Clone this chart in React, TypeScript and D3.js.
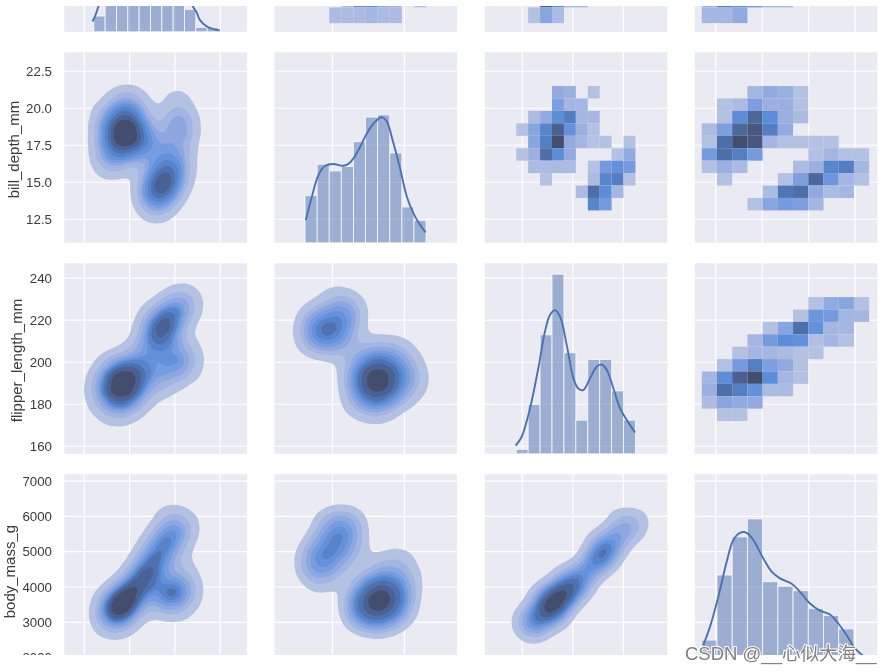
import React, { useEffect, useRef } from 'react';
import * as d3 from 'd3';

type Anchor = [number, number, number];

// axis domains
const billDomain = [25.59, 65.9];
const depthDomain = [10.97, 23.66];
const flipperDomain = [156.4, 246.8];
const massDomain = [2548, 6478];

const billRowDomain = [30.725, 60.975];
const depthRowDomain = [10.91, 23.78];
const flipperRowDomain = [156.4, 247.1];
const massRowDomain = [1796, 7193];

const billTicks = [30, 40, 50, 60];
const depthTicksX = [15, 20];
const flipperTicksX = [175, 200, 225];
const massTicksX = [3000, 4000, 5000, 6000];

const depthTicks = [12.5, 15, 17.5, 20, 22.5];
const flipperTicks = [160, 180, 200, 220, 240];
const massTicks = [2000, 3000, 4000, 5000, 6000, 7000];

// histogram counts on the diagonal
const billCounts = [7, 30, 50, 50, 46, 58, 52, 37, 10, 2, 2];
const depthCounts = [21, 35, 32, 34, 45, 56, 57, 40, 16, 10];
const flipperCounts = [2, 22, 53, 80, 45, 15, 42, 42, 28, 15];
const massCounts = [11, 40, 57, 65, 37, 35, 33, 25, 22, 16, 3];

// kde curves on the diagonal: [value, count]
const billCurve: [number, number][] = [[31.8, 4.6], [32.4, 7.1], [33.2, 11.6], [36, 25], [39, 37], [42, 37], [46, 42], [49, 43], [52, 25], [53.9, 11.6], [54.8, 8.6], [55.5, 5.3], [57, 2.4], [58.5, 1.2], [59.9, 0.6]];
const depthCurve: [number, number][] = [[13.15, 10.1], [13.57, 20.5], [14.03, 30.2], [14.49, 34.3], [15.07, 35.1], [15.76, 34.3], [16.23, 35.8], [16.81, 41.3], [17.39, 48.7], [17.97, 53.9], [18.43, 55.9], [18.78, 53.9], [19.24, 44.3], [19.7, 33.1], [20.17, 20.5], [20.63, 13.1], [21.09, 7.9], [21.48, 4.6]];
const flipperCurve: [number, number][] = [[171.7, 3.6], [174.7, 7.6], [178.8, 20.2], [182.9, 38], [186.2, 54.4], [188.7, 61.8], [191.2, 64], [193.7, 61.1], [197, 48.4], [200.3, 33.6], [202.7, 29.1], [205.2, 28.4], [208.5, 33.6], [211.8, 38.8], [214.3, 39.8], [216.8, 37.3], [220.1, 29.1], [223.4, 20.2], [226.7, 15], [230.8, 9.5]];
const massCurve: [number, number][] = [[2733, 8.8], [2877, 16.9], [3056, 30.3], [3236, 45.9], [3379, 55.6], [3523, 58.8], [3667, 58.8], [3809, 55.6], [4024, 47.4], [4204, 41.5], [4383, 38.5], [4634, 36.1], [4813, 32.5], [5028, 27.3], [5243, 24.1], [5458, 22.4], [5637, 18.4], [5817, 13.2], [5996, 7.3], [6174, 4], [6300, 2]];

// 2d histograms, rows top to bottom, cell shade 0-10
const billByDepth = [
  [0, 0, 0, 1.5, 6, 6, 3, 2, 0, 1],
  [0, 0, 1.5, 1.5, 1.5, 2, 1.5, 1.5, 0, 0],
];
const billByFlipper = [
  [0, 0, 9, 6, 1.5, 1.5, 0, 0, 0, 0],
  [0, 1, 3.5, 1.5, 0, 0, 0, 0, 0, 0],
];
const billByMass = [
  [2, 7, 5.5, 4.5, 1.5, 1.5, 0, 0, 0, 0, 0],
  [2, 2, 3, 0, 0, 0, 0, 0, 0, 0, 0],
];
const depthByFlipper = [
  [0, 0, 0, 3, 2.5, 0, 1, 0, 0, 0],
  [0, 0, 0, 4, 2, 2, 0, 0, 0, 0],
  [0, 1.5, 3, 6, 7, 2, 2, 0, 0, 0],
  [1, 3.5, 6.5, 9, 5.5, 2.5, 1, 0, 0, 0],
  [0, 3.5, 7, 10, 3, 2, 1, 1, 0, 1],
  [1, 2.5, 8, 6, 3, 0, 0, 0, 1, 3],
  [0, 1.5, 1.5, 1.5, 1.5, 0, 1, 4.5, 5.5, 4.5],
  [0, 0, 1, 0, 0, 0, 1.5, 6.5, 7, 1],
  [0, 0, 0, 0, 0, 1.5, 8, 6, 2, 0],
  [0, 0, 0, 0, 0, 0, 6.5, 4.5, 0, 0],
];
const depthByMass = [
  [0, 0, 0, 2, 3, 2.5, 1, 0, 0, 0, 0],
  [0, 1, 1.5, 4, 2.5, 2.5, 1, 0, 0, 0, 0],
  [0, 1, 6, 8.5, 6, 2.5, 1.5, 0, 0, 0, 0],
  [1.5, 4, 8.5, 9.5, 7, 3, 0, 0, 0, 0, 0],
  [1, 8, 10, 9.5, 2, 1, 1, 1, 1, 0, 0],
  [4.5, 8, 7, 4.5, 0, 0, 0, 1, 2, 1, 1],
  [1, 2.5, 1.5, 0, 0, 0, 1.5, 2.5, 6.5, 7, 2],
  [0, 1, 0, 0, 0, 1, 4, 8.5, 5, 2, 1],
  [0, 0, 0, 0, 1.5, 7.5, 8, 3, 1.5, 2, 0],
  [0, 0, 0, 1, 3.5, 4.5, 4, 2, 0, 0, 0],
];
const flipperByMass = [
  [0, 0, 0, 0, 0, 0, 0, 1, 3, 3.5, 1],
  [0, 0, 0, 0, 0, 0, 1, 5, 4.5, 2, 2],
  [0, 0, 0, 0, 1, 3.5, 8, 5.5, 2, 2, 0],
  [0, 0, 0, 2, 4.5, 6, 5.5, 1.2, 2, 1, 0],
  [0, 0, 1, 2, 2, 1.5, 1, 1, 0, 0, 0],
  [0, 1, 4.5, 7, 4, 3, 1, 0, 0, 0, 0],
  [2, 6, 9, 10, 6, 2, 1, 0, 0, 0, 0],
  [2.5, 8, 7, 5.5, 1.5, 1.5, 0, 0, 0, 0, 0],
  [1.5, 3.5, 3, 3, 0, 0, 0, 0, 0, 0, 0],
  [0, 1, 1, 0, 0, 0, 0, 0, 0, 0, 0],
];

// weighted points behind the filled kde panels: [x, y, weight]
const depthVsBill: Anchor[] = [
  [39, 18.33, 28], [42.3, 18.33, 15], [35.7, 18.33, 15], [40.6, 19.33, 15], [37.4, 19.33, 15], [40.6, 17.33, 15], [37.4, 17.33, 15],
  [39, 20.5, 10], [35, 17, 8], [34.5, 19.5, 6], [36, 16.2, 10], [41, 20.2, 6], [43, 17.3, 6],
  [47.1, 14.8, 25], [49, 15.6, 18], [45.2, 14, 14], [48.5, 14.2, 8], [45.7, 15.4, 8], [50, 16.5, 10], [46, 13.2, 8], [43.8, 14.6, 4], [51, 15.4, 5],
  [50.9, 18.9, 22], [50.5, 20.6, 7], [51.1, 17.5, 9],
  [45, 18, 5], [46, 16.9, 6], [47.5, 17, 5],
];
const flipperVsBill: Anchor[] = [
  [38.5, 190.1, 28], [41.8, 190.1, 15], [35.2, 190.1, 15], [40.1, 197.2, 15], [36.9, 197.2, 15], [40.1, 183, 15], [36.9, 183, 15],
  [34, 182, 8], [37, 176.5, 8], [43, 198, 8], [33.5, 190, 4], [41, 180, 4],
  [46.7, 215.4, 22], [48.9, 221.1, 20], [44.5, 209.7, 16], [50.7, 226.8, 14], [52, 231, 5], [53, 226, 6], [43, 204, 7], [45.5, 221, 10], [49, 212, 10],
  [50, 197.8, 18], [46, 193, 10], [52.5, 204, 10], [49, 204, 8], [53, 197, 5], [45, 199, 5], [47, 187.5, 5],
];
const flipperVsDepth: Anchor[] = [
  [14.7, 215.4, 24], [15.6, 220, 18], [14, 211, 14], [15.9, 226, 12], [13.7, 218, 10], [15.2, 208.5, 6], [14, 222, 8], [15.4, 213, 8], [16.5, 223, 5], [13.4, 212, 5], [15, 231, 5],
  [18.1, 191.6, 42], [19.1, 191.6, 22], [17.1, 191.6, 22], [18.6, 198.7, 18], [17.6, 198.7, 14], [18.6, 184.5, 20], [17.6, 184.5, 20],
  [19.9, 196, 10], [20.6, 191, 10], [19.9, 184, 7], [18.1, 177.5, 8], [16.6, 181, 8], [19.4, 205, 10], [17.8, 205, 10], [16.4, 196, 7], [20.4, 201, 4], [16.2, 208, 5],
];
const massVsBill: Anchor[] = [
  [38.5, 3600, 32], [40.5, 3900, 26], [36.5, 3300, 20], [42.5, 4200, 16], [39, 3250, 10], [35, 3000, 8], [38, 2900, 5], [35.5, 3500, 10], [41.5, 3450, 6],
  [44.5, 4623, 18], [46.7, 5048, 18], [48.5, 5400, 16], [50, 5750, 10], [52.5, 5700, 8], [50, 5250, 8], [45, 5100, 6], [47, 4500, 8], [48.5, 6000, 5], [43.5, 4350, 15],
  [49, 3830, 22], [46.5, 3650, 14], [51.5, 3950, 14], [50.5, 3350, 7], [51.5, 4500, 8], [53, 3800, 6],
];
const massVsDepth: Anchor[] = [
  [18.1, 3600, 42], [19, 3850, 30], [17.2, 3450, 22], [18.9, 3450, 14], [18, 3950, 12], [17.6, 3100, 10], [18.7, 3100, 10], [19.9, 3400, 8], [20.2, 4100, 8], [19.8, 4700, 7], [18.5, 4500, 9], [16.9, 4000, 6], [16.6, 3300, 5],
  [14.35, 4765, 16], [15.19, 5190, 16], [15.74, 5615, 14], [16.3, 5800, 7], [13.6, 4600, 9], [14.3, 4200, 7], [14.8, 5750, 10], [15.5, 4800, 7], [16.5, 5100, 6], [13.9, 5100, 7],
];
const massVsFlipper: Anchor[] = [
  [191.2, 3575, 30], [187, 3350, 22], [195.5, 3800, 25], [184, 3200, 10], [199, 4000, 18], [193, 3350, 8], [188, 3800, 10], [180, 3000, 12], [176, 3050, 6], [181, 2800, 8], [190, 3050, 6],
  [203, 4200, 12], [207, 4450, 14], [212, 4750, 20], [215.5, 4950, 18], [219, 5200, 15], [224, 5500, 12], [229, 5700, 6], [232, 5850, 6], [223, 5900, 6], [213, 5300, 6], [196, 4300, 6], [203, 3950, 6], [183, 3600, 5],
];

const kdeLevels = [0.05, 0.1556, 0.2611, 0.3667, 0.4722, 0.5778, 0.6833, 0.7889, 0.8944];

const shadeStops = [1, 2.5, 4, 6, 7.5, 9, 10];
const shadeColors = ['#b3c1e2', '#9cb0e0', '#7d9fe0', '#5c8dd8', '#4f76b5', '#4b5f90', '#454e6e'];

const colLefts = [64.3, 274.4, 484.7, 694.7];
const rowTops = [-158.7, 52.3, 263.3, 474.3];
const panelW = 182.7;
const panelH = 190.5;
const countMax = panelH / 2.245;

const edges = (lo: number, hi: number, n: number) => d3.range(n + 1).map(i => lo + ((hi - lo) * i) / n);
const billEdges = edges(32.1, 59.6, 11);
const depthEdges = edges(13.1, 21.5, 10);
const flipperEdges = edges(172, 231, 10);
const massEdges = edges(2700, 6300, 11);

const columns = [
  { domain: billDomain, ticks: billTicks, edges: billEdges },
  { domain: depthDomain, ticks: depthTicksX, edges: depthEdges },
  { domain: flipperDomain, ticks: flipperTicksX, edges: flipperEdges },
  { domain: massDomain, ticks: massTicksX, edges: massEdges },
];
const rows = [
  { label: '', labelX: 0, domain: billRowDomain, ticks: [] as number[], edges: billEdges, fmt: d3.format('d') },
  { label: 'bill_depth_mm', labelX: 18.5, domain: depthRowDomain, ticks: depthTicks, edges: depthEdges, fmt: d3.format('.1f') },
  { label: 'flipper_length_mm', labelX: 21.5, domain: flipperRowDomain, ticks: flipperTicks, edges: flipperEdges, fmt: d3.format('d') },
  { label: 'body_mass_g', labelX: 14.5, domain: massRowDomain, ticks: massTicks, edges: massEdges, fmt: d3.format('d') },
];

const diagonals = [
  { counts: billCounts, curve: billCurve },
  { counts: depthCounts, curve: depthCurve },
  { counts: flipperCounts, curve: flipperCurve },
  { counts: massCounts, curve: massCurve },
];
const heatmaps = [
  { row: 0, col: 1, cells: billByDepth },
  { row: 0, col: 2, cells: billByFlipper },
  { row: 0, col: 3, cells: billByMass },
  { row: 1, col: 2, cells: depthByFlipper },
  { row: 1, col: 3, cells: depthByMass },
  { row: 2, col: 3, cells: flipperByMass },
];
const kdePanels = [
  { row: 1, col: 0, points: depthVsBill, bandwidth: 12 },
  { row: 2, col: 0, points: flipperVsBill, bandwidth: 12 },
  { row: 2, col: 1, points: flipperVsDepth, bandwidth: 12 },
  { row: 3, col: 0, points: massVsBill, bandwidth: 11.5 },
  { row: 3, col: 1, points: massVsDepth, bandwidth: 12 },
  { row: 3, col: 2, points: massVsFlipper, bandwidth: 10 },
];

const App: React.FC = () => {
  const svgRef = useRef<SVGSVGElement>(null);

  useEffect(() => {
    if (!svgRef.current) return;
    const svg = d3.select(svgRef.current);
    svg.selectAll('*').remove();

    const defs = svg.append('defs');
    defs.append('filter').attr('id', 'soft').append('feGaussianBlur').attr('stdDeviation', 0.55);
    defs.append('clipPath').attr('id', 'crop').append('rect')
      .attr('x', 0).attr('y', 6).attr('width', 892).attr('height', 649);
    defs.append('clipPath').attr('id', 'panel').append('rect')
      .attr('width', panelW).attr('height', panelH);

    const root = svg.append('g').attr('filter', 'url(#soft)');
    const chart = root.append('g').attr('clip-path', 'url(#crop)');

    const shade = d3.scaleLinear<string>().domain(shadeStops).range(shadeColors).clamp(true);
    const xScales = columns.map(c => d3.scaleLinear().domain(c.domain).range([0, panelW]));
    const yScales = rows.map(r => d3.scaleLinear().domain(r.domain).range([panelH, 0]));
    const countScale = d3.scaleLinear().domain([0, countMax]).range([panelH, 0]);

    const panelAt = (row: number, col: number) => {
      const g = chart.append('g').attr('transform', `translate(${colLefts[col]},${rowTops[row]})`);
      g.append('rect').attr('width', panelW).attr('height', panelH).attr('fill', '#eaeaf2');
      g.selectAll('line.gx').data(columns[col].ticks).join('line')
        .attr('x1', d => xScales[col](d)).attr('x2', d => xScales[col](d))
        .attr('y1', 0).attr('y2', panelH)
        .attr('stroke', '#fff').attr('stroke-width', 1.2);
      g.selectAll('line.gy').data(rows[row].ticks).join('line')
        .attr('x1', 0).attr('x2', panelW)
        .attr('y1', d => yScales[row](d)).attr('y2', d => yScales[row](d))
        .attr('stroke', '#fff').attr('stroke-width', 1.2);
      return g.append('g').attr('clip-path', 'url(#panel)');
    };

    // filled kde panels
    kdePanels.forEach(({ row, col, points, bandwidth }) => {
      const g = panelAt(row, col);
      const x = xScales[col];
      const y = yScales[row];
      const density = d3.contourDensity<Anchor>()
        .x(d => x(d[0]))
        .y(d => y(d[1]))
        .weight(d => d[2])
        .size([panelW, panelH])
        .cellSize(1)
        .bandwidth(bandwidth)
        .thresholds((values: any) => {
          // iso-proportion levels, like seaborn's kdeplot
          const sorted = Float64Array.from(values as number[]).sort();
          const cumulative = d3.cumsum(sorted);
          const total = cumulative[cumulative.length - 1];
          return kdeLevels.map(q => sorted[d3.bisectLeft(cumulative, q * total)]);
        });
      const contours = density(points);
      const bandColor = d3.scaleLinear().domain([0, kdeLevels.length - 1]).range([1, 10]);
      g.selectAll('path').data(contours).join('path')
        .attr('d', d3.geoPath())
        .attr('fill', (_, i) => shade(bandColor(i)));
    });

    // 2d histograms above the diagonal
    heatmaps.forEach(({ row, col, cells }) => {
      const g = panelAt(row, col);
      const x = xScales[col];
      const y = yScales[row];
      const xe = columns[col].edges;
      const ye = rows[row].edges;
      cells.forEach((line, r) => {
        const bin = cells.length - 1 - r;
        g.selectAll(`rect.r${r}`).data(line).join('rect')
          .attr('class', `r${r}`)
          .attr('x', (_, i) => x(xe[i]))
          .attr('width', (_, i) => x(xe[i + 1]) - x(xe[i]))
          .attr('y', y(ye[bin + 1]))
          .attr('height', y(ye[bin]) - y(ye[bin + 1]))
          .attr('fill', d => (d > 0 ? shade(d) : 'none'));
      });
    });

    // histogram + kde line on the diagonal
    diagonals.forEach(({ counts, curve }, i) => {
      const g = panelAt(i, i);
      const x = xScales[i];
      const xe = columns[i].edges;
      g.selectAll('rect').data(counts).join('rect')
        .attr('x', (_, k) => x(xe[k]))
        .attr('width', (_, k) => x(xe[k + 1]) - x(xe[k]))
        .attr('y', d => countScale(d))
        .attr('height', d => panelH - countScale(d))
        .attr('fill', '#4c72b0').attr('fill-opacity', 0.5)
        .attr('stroke', '#fff').attr('stroke-opacity', 0.8).attr('stroke-width', 0.9);
      const line = d3.line<[number, number]>()
        .x(d => x(d[0]))
        .y(d => countScale(d[1]))
        .curve(d3.curveCatmullRom);
      g.append('path').datum(curve).attr('d', line)
        .attr('fill', 'none').attr('stroke', '#4c72b0').attr('stroke-width', 1.9);
    });

    // y axes
    rows.forEach((r, i) => {
      if (!r.ticks.length) return;
      const axis = d3.axisLeft(yScales[i]).tickValues(r.ticks).tickSize(0).tickPadding(12.3)
        .tickFormat(d => r.fmt(d as number));
      const g = chart.append('g')
        .attr('transform', `translate(${colLefts[0]},${rowTops[i]})`)
        .call(axis);
      g.select('.domain').remove();
      g.selectAll('text')
        .attr('font-family', '"Liberation Sans", Arial, sans-serif')
        .attr('font-size', 13.3)
        .attr('fill', '#3a3a3a');
      chart.append('text')
        .attr('transform', `translate(${r.labelX},${rowTops[i] + panelH / 2 + 2}) rotate(-90)`)
        .attr('text-anchor', 'middle')
        .attr('font-family', '"Liberation Sans", Arial, sans-serif')
        .attr('font-size', 15)
        .attr('fill', '#3a3a3a')
        .text(r.label);
    });

    root.append('text')
      .attr('x', 685).attr('y', 660)
      .attr('font-family', '"Liberation Sans", "Noto Sans CJK SC", sans-serif')
      .attr('font-size', 18.5)
      .attr('fill', '#808080')
      .attr('stroke', '#fff').attr('stroke-width', 2).attr('paint-order', 'stroke')
      .text('CSDN @__心似大海__');
  }, []);

  return (
    <svg
      ref={svgRef}
      width={892}
      height={672}
      style={{ position: 'absolute', left: 0, top: 0, background: '#fff' }}
    />
  );
};

export default App;
